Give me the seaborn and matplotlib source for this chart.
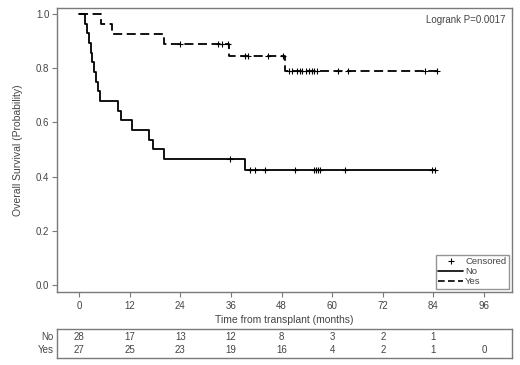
import numpy as np
import pandas as pd
import matplotlib
matplotlib.use("Agg")
import matplotlib.pyplot as plt
from matplotlib.lines import Line2D
import seaborn as sns

# months to death / censoring
no_deaths = [1.4, 1.85, 2.3, 2.75, 3.2, 3.65, 4.1, 4.55, 5.0, 9.3, 9.9, 12.5, 16.6, 17.6, 20.2, 39.4]
no_censored = [35.8, 40.5, 41.7, 44.1, 51.2, 55.6, 56.1, 56.6, 57.1, 63.0, 83.6, 84.4]
yes_deaths = [5.3, 7.8, 20.1, 35.5, 48.8]
yes_censored = [23.9, 33.0, 34.0, 35.2, 39.3, 40.1, 44.9, 48.3, 49.8, 50.5, 51.6, 52.4,
                52.9, 53.8, 54.4, 55.2, 55.8, 56.4, 61.4, 63.8, 82.0, 84.8]

# numbers at risk
risk_times = [0, 12, 24, 36, 48, 60, 72, 84, 96]
risk_no = [28, 17, 13, 12, 8, 3, 2, 1, None]
risk_yes = [27, 25, 23, 19, 16, 4, 2, 1, 0]
xticks = [0, 12, 24, 36, 48, 60, 72, 84, 96]
yticks = [0.0, 0.2, 0.4, 0.6, 0.8, 1.0]


def km(deaths, censored, group):
    deaths = np.array(deaths)
    censored = np.array(censored)
    alltimes = np.r_[deaths, censored]
    s = 1.0
    rows = [(0.0, 1.0, group, False)]
    for t in np.unique(alltimes):
        n = (alltimes >= t).sum()
        d = (deaths == t).sum()
        s = s * (1 - d / n)
        rows.append((t, s, group, bool((censored == t).any())))
    return pd.DataFrame(rows, columns=["time", "surv", "group", "cens"])


df = pd.concat([km(no_deaths, no_censored, "No"), km(yes_deaths, yes_censored, "Yes")],
               ignore_index=True)

sns.set_style("white")
plt.rcParams["font.family"] = ["Liberation Sans", "DejaVu Sans"]
grey = "#7a7a7a"
txt = "#444444"

fig = plt.figure(figsize=(5.2, 3.65), dpi=100)
ax = fig.add_axes([57 / 520, 1 - 292 / 365, 455 / 520, 284 / 365])
ax2 = fig.add_axes([57 / 520, 1 - 358 / 365, 455 / 520, 29 / 365])

sns.lineplot(df, x="time", y="surv", style="group", dashes={"No": "", "Yes": (5, 2.5)},
             color="black", lw=1.3, drawstyle="steps-post", estimator=None,
             legend=False, ax=ax)
sns.scatterplot(df[df["cens"]], x="time", y="surv", marker="+", s=22, color="black",
                linewidth=0.8, legend=False, ax=ax)

ax.set_xlim(-5.2, 102.6)
ax.set_ylim(-0.026, 1.022)
ax.set_xticks(xticks)
ax.set_yticks(yticks)
ax.set_yticklabels([f"{v:.1f}" for v in yticks])
ax.tick_params(bottom=True, left=True, direction="out", length=3.5, width=0.8, color=grey,
               labelsize=7, labelcolor=txt, pad=2)
ax.tick_params(axis="x", pad=3)
for sp in ax.spines.values():
    sp.set_color(grey)
    sp.set_linewidth(1)
ax.set_xlabel("Time from transplant (months)", fontsize=7.5, color=txt, labelpad=3)
ax.set_ylabel("Overall Survival (Probability)", fontsize=7.5, color=txt, labelpad=9)
ax.text(0.986, 0.975, "Logrank P=0.0017", transform=ax.transAxes, ha="right", va="top",
        fontsize=7, color=txt)

handles = [Line2D([], [], marker="+", ls="none", color="black", markersize=4, mew=0.8),
           Line2D([], [], color="black", lw=1.2),
           Line2D([], [], color="black", lw=1.2, ls=(0, (4, 2)))]
leg = ax.legend(handles, ["Censored", "No", "Yes"], loc="lower right", fontsize=6.8,
                frameon=True, fancybox=False, edgecolor=grey, handlelength=2.6,
                handletextpad=0.25, labelspacing=0.1, borderpad=0.25, borderaxespad=0.35,
                markerfirst=True)
for t in leg.get_texts():
    t.set_color(txt)
leg.get_frame().set_linewidth(1)

# risk table
ax2.set_xlim(-5.2, 102.6)
ax2.set_ylim(0, 1)
ax2.set_xticks([])
ax2.set_yticks([])
for sp in ax2.spines.values():
    sp.set_color(grey)
    sp.set_linewidth(1)
for x, a, b in zip(risk_times, risk_no, risk_yes):
    if a is not None:
        ax2.text(x, 0.72, str(a), ha="center", va="center", fontsize=7, color=txt)
    ax2.text(x, 0.27, str(b), ha="center", va="center", fontsize=7, color=txt)
ax2.text(-6.0, 0.72, "No", ha="right", va="center", fontsize=7, color=txt)
ax2.text(-6.0, 0.27, "Yes", ha="right", va="center", fontsize=7, color=txt)

fig.savefig("out.png", dpi=100)
